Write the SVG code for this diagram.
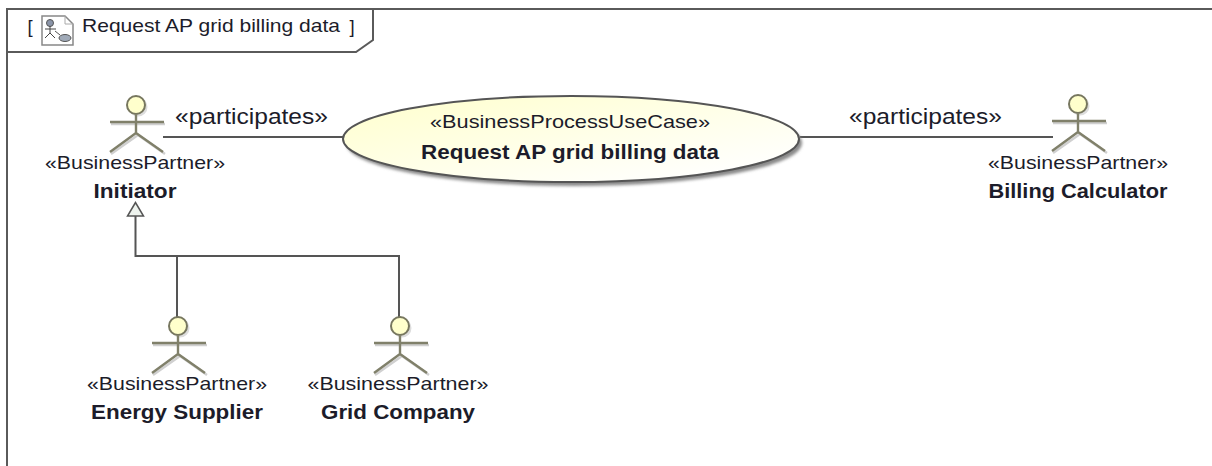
<svg xmlns="http://www.w3.org/2000/svg" width="1212" height="466" viewBox="0 0 1212 466">
<style>
text{font-family:"Liberation Sans",Arial,sans-serif;fill:#1c1c2a;text-anchor:middle}
.st{font-size:18.500px}
.nm{font-size:19.500px;font-weight:bold}
.lb{font-size:22px}
.tt{font-size:18.500px}
.ln{fill:none;stroke:#555;stroke-width:2}
.fr{fill:none;stroke:#5a5a5a;stroke-width:2}
.hd{fill:#ffffcc;stroke:#77775f;stroke-width:2}
.lm{fill:none;stroke:#80806a;stroke-width:2.400}
.sh{fill:none;stroke:#d0d0d0;stroke-width:2.400}
.shh{fill:#ddd;stroke:none}
</style>
<defs>
<linearGradient id="g" x1="0" y1="0" x2="1" y2="1"><stop offset="0" stop-color="#ffffcc"/><stop offset="0.9" stop-color="#ffffff"/></linearGradient>
<filter id="b" x="-5%" y="-10%" width="110%" height="120%"><feGaussianBlur stdDeviation="1.500"/></filter>
<g id="actor">
<circle class="shh" cx="2" cy="2" r="9.500"/>
<path class="sh" d="M-25 19H29M-25 49L2 30L29 49"/>
<circle class="hd" cx="0" cy="0" r="9"/>
<path class="lm" d="M0 9V28M-26 17H28M-26 47L0 28L27 47"/>
</g>
</defs>
<g id="frame">
<path class="fr" d="M7 466V9H1212"/>
<path class="fr" d="M7 52H356L373 40V9"/>
<text x="30" y="33" class="tt">[</text>
<g id="frame-icon" fill="none">
<path d="M42 16H65L73 24V45H42Z" fill="#fff" stroke="#888" stroke-width="1.500"/>
<path d="M65 16V24H73" stroke="#aaa"/>
<circle cx="50" cy="23" r="3.500" fill="#8a94a8" stroke="#555"/>
<path d="M50 26V33M45 29H56M45 38L50 33L55 38" stroke="#444"/>
<ellipse cx="65" cy="38" rx="6" ry="3.500" fill="#a0aab8" stroke="#555"/>
<path d="M55 31L60 35" stroke="#555"/>
</g>
<text x="211" y="32" class="tt" textLength="258" lengthAdjust="spacingAndGlyphs">Request AP grid billing data</text>
<text x="352" y="33" class="tt">]</text>
</g>
<g id="connectors">
<path class="ln" d="M163 137H343"/>
<path class="ln" d="M800 137H1053"/>
<path class="ln" d="M135.500 216V256H399V318"/>
<path class="ln" d="M177 256V318"/>
<path d="M135.500 202.500L127.500 216H143.500Z" fill="#eef3ee" stroke="#555" stroke-width="1.500"/>
<text x="251.500" y="124" class="lb" textLength="153" lengthAdjust="spacingAndGlyphs">«participates»</text>
<text x="925.500" y="124" class="lb" textLength="153" lengthAdjust="spacingAndGlyphs">«participates»</text>
</g>
<g id="initiator">
<use href="#actor" x="136" y="105"/>
<text x="135" y="169" class="st" textLength="180" lengthAdjust="spacingAndGlyphs">«BusinessPartner»</text>
<text x="135" y="198" class="nm" textLength="83" lengthAdjust="spacingAndGlyphs">Initiator</text>
</g>
<g id="use-case">
<ellipse cx="574" cy="143" rx="228" ry="43" fill="#8a8a8a" filter="url(#b)"/>
<ellipse cx="571" cy="139" rx="228" ry="43" fill="url(#g)" stroke="#555" stroke-width="2"/>
<text x="570" y="128" class="st" textLength="280" lengthAdjust="spacingAndGlyphs">«BusinessProcessUseCase»</text>
<text x="570" y="159" class="nm" textLength="298" lengthAdjust="spacingAndGlyphs">Request AP grid billing data</text>
</g>
<g id="billing-calculator">
<use href="#actor" x="1078" y="104"/>
<text x="1078" y="169" class="st" textLength="180" lengthAdjust="spacingAndGlyphs">«BusinessPartner»</text>
<text x="1078" y="198" class="nm" textLength="179" lengthAdjust="spacingAndGlyphs">Billing Calculator</text>
</g>
<g id="energy-supplier">
<use href="#actor" x="178" y="326"/>
<text x="177" y="390" class="st" textLength="180" lengthAdjust="spacingAndGlyphs">«BusinessPartner»</text>
<text x="177" y="419" class="nm" textLength="172" lengthAdjust="spacingAndGlyphs">Energy Supplier</text>
</g>
<g id="grid-company">
<use href="#actor" x="400" y="326"/>
<text x="398" y="390" class="st" textLength="181" lengthAdjust="spacingAndGlyphs">«BusinessPartner»</text>
<text x="398" y="419" class="nm" textLength="154" lengthAdjust="spacingAndGlyphs">Grid Company</text>
</g>
</svg>
